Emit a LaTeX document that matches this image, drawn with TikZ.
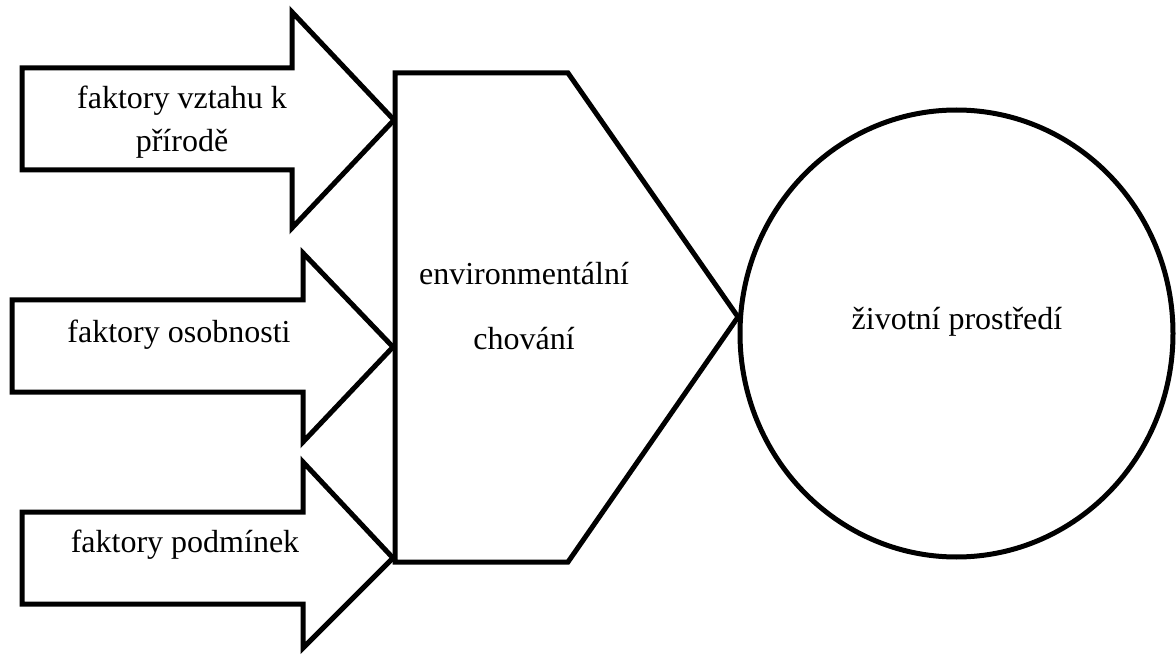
\documentclass[tikz,border=0pt]{standalone}
\usepackage{fontspec}
\setmainfont{Liberation Serif}
\usepackage{tikz}
\tikzset{
  blk/.style={draw=black,line width=5pt,line join=miter,fill=white},
  lbl/.style={font=\fontsize{32}{43}\selectfont,align=center,inner sep=0pt}
}

\begin{document}
\begin{tikzpicture}[x=1pt,y=-1pt]
\useasboundingbox (0,0) rectangle (1176,655);
\coordinate (t1) at (394,120);
\coordinate (t2) at (393,347);
\coordinate (t3) at (393,558);
\coordinate (tip) at (738,317);
% block arrows
\draw[blk] (22,68)--(292,68)--(292,12)--(t1)--(292,228)--(292,170)--(22,170)--cycle;
\draw[blk] (12,300)--(303,300)--(303,253)--(t2)--(303,442)--(303,392)--(12,392)--cycle;
\draw[blk] (22,512)--(303,512)--(303,462)--(t3)--(303,648)--(303,604)--(22,604)--cycle;
% behaviour block
\draw[blk] (395,73)--(568,73)--(tip)--(568,562)--(395,562)--cycle;
% environment
\draw[blk] (956.5,333.5) ellipse [x radius=216.5,y radius=223.5];
\node[lbl] (rel) at (182,122) {faktory vztahu k\\přírodě};
\node[lbl] (oso) at (179,335) {faktory osobnosti};
\node[lbl] (pod) at (185,545) {faktory podmínek};
\node[lbl,font=\fontsize{32}{65}\selectfont] (chov) at (524,306) {environmentální\\chování};
\node[lbl] (zp) at (957,322) {životní prostředí};
\end{tikzpicture}
\end{document}
